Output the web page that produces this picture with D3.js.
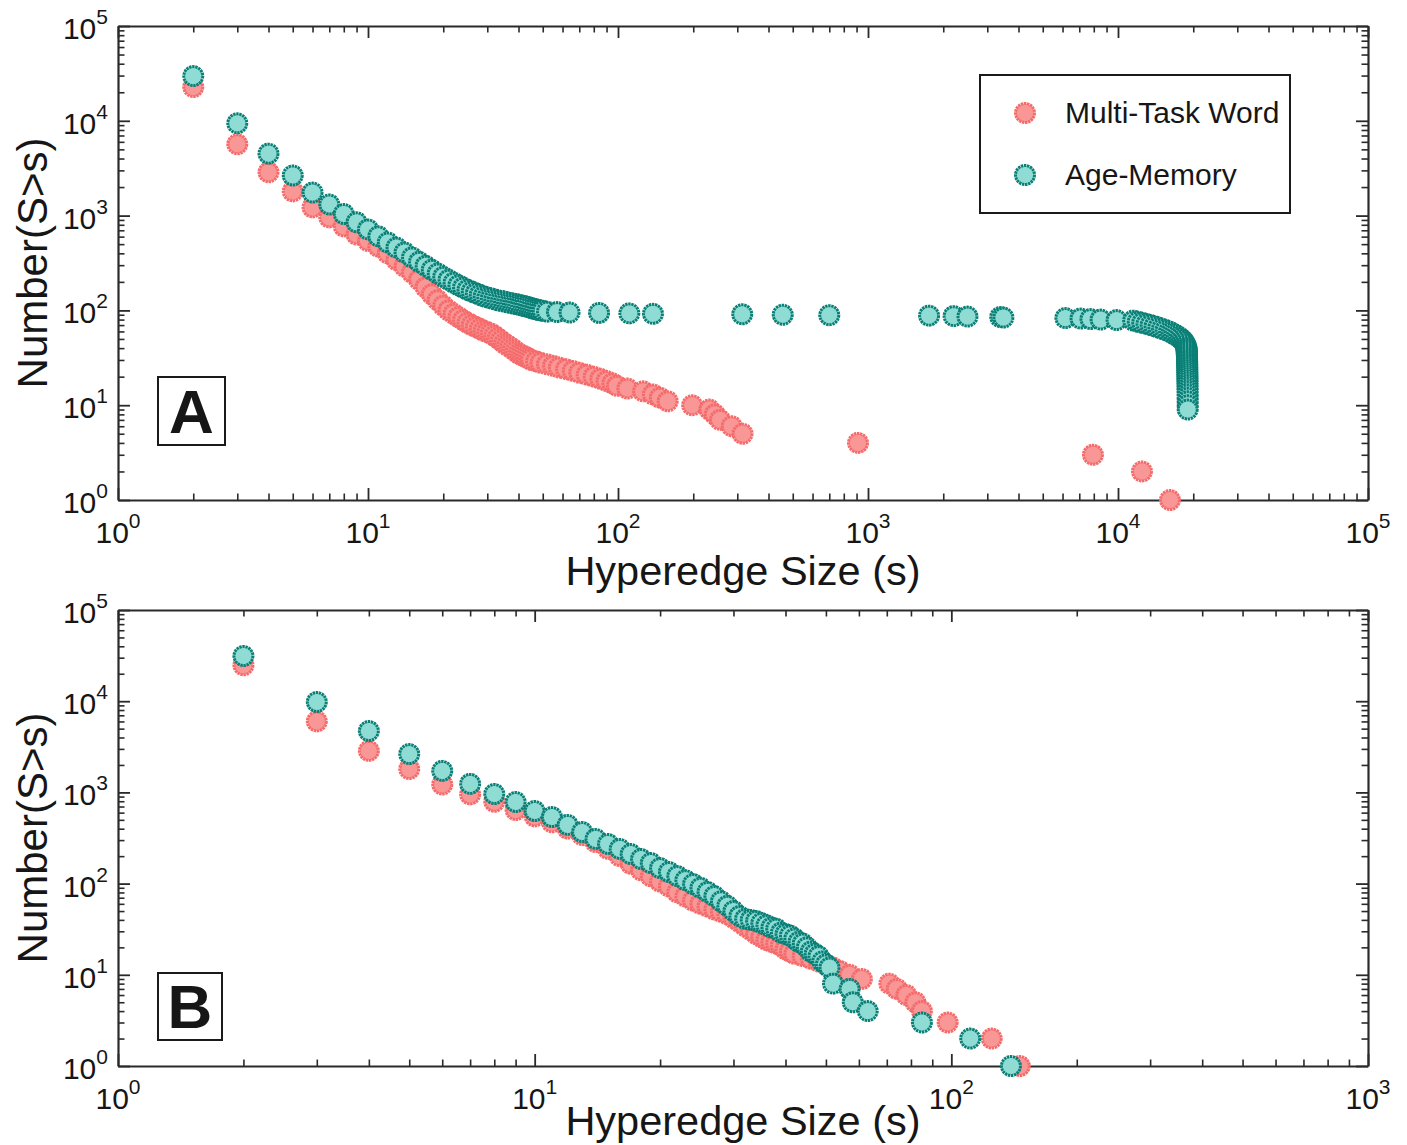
<!DOCTYPE html>
<html><head><meta charset="utf-8">
<script src="https://cdn.jsdelivr.net/npm/d3@7"></script>
<style>
body{margin:0;background:#fff}
text{font-family:"Liberation Sans",Arial,Helvetica,sans-serif;fill:#161616}
</style>
</head><body>
<svg id="chart" width="1407" height="1145"></svg>
<script>
// ---------------- DATA ----------------
const seriesNames = ["Multi-Task Word", "Age-Memory"];
const panelLetters = ["A", "B"];

// Panel A : Multi-Task Word
const sizeA_mtw = [2,3,4,5,6,7,8,9,10,11,12,13,14,15,16,17,18,19,20,21,22,23,24,25,26,27,28,29,30,31,32,33,34,35,36,37,38,39,40,41,42,43,44,45,47,49,52,55,58,62,66,70,75,80,85,90,95,99,109,126,138,147,158,198,232,244,256,285,315,912,7940,12470,16140];
const countA_mtw = [22700,5660,2860,1800,1220,957,769,632,540,470,400,340,290,250,210,175,148,128,112,100,92,85,79,74,70,67,64,61,59,57,54,51,48,45,43,41,39,37,35,34,33,32,31,30,29,28,27,26,25,24,23,22,21,20,19,18,17,16,15,14,13,12,11,10,9,8,7,6,5,4,3,2,1];

// Panel A : Age-Memory
const sizeA_am = [2,3,4,5,6,7,8,9,10,11,12,13,14,15,16,17,18,19,20,21,22,23,24,25,26,27,28,29,30,31,32,33,34,35,36,37,38,39,40,41,42,43,44,45,46,47,48,49,50,
  52,57,64,84,111,138,314,456,700,1755,2200,2500,3380,3480,6160,7080,7760,8520,9870,11500,
  12000,12500,13000,13500,14000,14500,15000,15500,16000,16400,16800,17200,17600,17900,18200,18400,18600,18700,
  18800,18810,18820,18830,18840,18850,18860,18870,18880,18890,18900,18905,18910,18915,18920,18925,18930,18935,18940,18945,18950,18955,18960,18965,18970,18975,18980,18985,18990,18995,19000,19000];
const countA_am = [29600,9400,4500,2650,1750,1310,1040,850,715,605,520,460,408,362,325,295,268,245,226,210,196,184,174,165,158,152,146,141,137,134,131,128,126,124,122,120,118,117,115,113,111,110,108,106,104,103,101,100,99,
  97,96,95,94,93,92,91,90,89,88,87,86,85,84,83,82,81,80,79,78,
  76,74,72,70,68,66,64,62,60,58,56,54,52,50,48,46,44,42,
  40,39,38,37,36,35,34,33,32,31,30,29,28,27,26,25,24,23,22,21,20,19,18,17,16,15,14,13,12,11,10,9];

// Panel B : Multi-Task Word
const sizeB_mtw = [2,3,4,5,6,7,8,9,10,11,12,13,14,15,16,17,18,19,20,21,22,23,24,25,26,27,28,29,30,31,32,33,34,35,36,37,38,39,40,41,42,44,46,48,50,52,54,57,61,71,74,78,82,85,98,125,146];
const countB_mtw = [24800,6000,2850,1800,1220,950,790,640,545,470,400,340,285,240,200,165,140,120,105,93,80,72,65,60,56,52,49,46,42,38,34,31,28,26,24,23,22,21,19,18,17,16,15,14,13,12,11,10,9,8,7,6,5,4,3,2,1];

// Panel B : Age-Memory
const sizeB_am = [2,3,4,5,6,7,8,9,10,11,12,13,14,15,16,17,18,19,20,21,22,23,24,25,26,27,28,29,30,31,32,33,34,35,36,37,38,39,40,41,42,43,44,45,46,47,48,49,50,51,52,57,58,63,85,111,139];
const countB_am = [31300,9800,4710,2630,1720,1240,960,785,625,537,440,368,309,272,240,211,186,168,148,134,121,109,99,90,81,73,64,57,50,44,41,40,39,37,35,33,32,29,28,27,25,23,22,20,18,17,16,14,13,12,8,7,5,4,3,2,1];

// Tick labels (exponents of 10)
const xTickExpA = [0,1,2,3,4,5];
const xTickExpB = [0,1,2,3];
const yTickExp  = [0,1,2,3,4,5];

const xLabel = "Hyperedge Size (s)";
const yLabel = "Number(S>s)";

// ---------------- STYLE ----------------
const styles = {
  mtw: {fill:"#f99696", stroke:"#f56a6a"},
  am:  {fill:"#8fdcd5", stroke:"#0a7f76"}
};
const R = 9.5;

const svg = d3.select("#chart");

function addPowerLabel(g, x, y, exp, anchor){
  const t = g.append("text").attr("x", x).attr("y", y)
    .attr("text-anchor", anchor).attr("font-size", 30);
  t.append("tspan").text("10");
  t.append("tspan").attr("dy", -15).attr("font-size", 21).text(exp);
}

function drawMarkers(g, sizes, counts, st, x, y){
  g.append("g").selectAll("circle").data(d3.zip(sizes, counts)).join("circle")
    .attr("cx", d => x(d[0])).attr("cy", d => y(d[1])).attr("r", R)
    .attr("fill", st.fill).attr("stroke", st.stroke)
    .attr("stroke-width", 3).attr("stroke-dasharray", "2.4,0.7");
}

function drawPanel(cfg){
  const g = svg.append("g");
  const x = d3.scaleLog().domain([1, Math.pow(10, cfg.xExp[cfg.xExp.length-1])]).range([cfg.left, cfg.right]);
  const y = d3.scaleLog().domain([1, 1e5]).range([cfg.bottom, cfg.top]);

  const xMaj = cfg.xExp.map(e => Math.pow(10, e));
  const yMaj = yTickExp.map(e => Math.pow(10, e));
  const xMin = [], yMin = [];
  cfg.xExp.slice(0, -1).forEach(e => { for (let k = 2; k <= 9; k++) xMin.push(k * Math.pow(10, e)); });
  yTickExp.slice(0, -1).forEach(e => { for (let k = 2; k <= 9; k++) yMin.push(k * Math.pow(10, e)); });

  const axes = [
    [d3.axisBottom(x), xMaj, xMin, `translate(0,${cfg.bottom})`],
    [d3.axisTop(x), xMaj, xMin, `translate(0,${cfg.top})`],
    [d3.axisLeft(y), yMaj, yMin, `translate(${cfg.left},0)`],
    [d3.axisRight(y), yMaj, yMin, `translate(${cfg.right},0)`]
  ];
  const mg = g.append("g");
  axes.forEach(([ax, maj, min, tr]) => {
    const a1 = g.append("g").attr("transform", tr)
      .call(ax.tickValues(maj).tickSize(-12).tickSizeOuter(0).tickFormat(""));
    a1.select(".domain").attr("stroke", "#2a2a2a").attr("stroke-width", 2.2);
    a1.selectAll(".tick line").attr("stroke", "#2a2a2a").attr("stroke-width", 1.8);
    const a2 = g.append("g").attr("transform", tr)
      .call(ax.tickValues(min).tickSize(-6.5).tickSizeOuter(0).tickFormat(""));
    a2.select(".domain").remove();
    a2.selectAll(".tick line").attr("stroke", "#2a2a2a").attr("stroke-width", 1.6);
  });

  drawMarkers(mg, cfg.redX, cfg.redY, styles.mtw, x, y);
  drawMarkers(mg, cfg.tealX, cfg.tealY, styles.am, x, y);
  mg.raise();

  cfg.xExp.forEach(e => addPowerLabel(g, x(Math.pow(10, e)), cfg.bottom + 43, e, "middle"));
  yTickExp.forEach(e => addPowerLabel(g, cfg.left - 10, y(Math.pow(10, e)) + 13, e, "end"));

  g.append("text").attr("x", (cfg.left + cfg.right) / 2).attr("y", cfg.bottom + cfg.xLabelOff)
    .attr("text-anchor", "middle").attr("font-size", 41.5).text(xLabel);
  g.append("text").attr("transform", `translate(47,${(cfg.top + cfg.bottom) / 2}) rotate(-90)`)
    .attr("text-anchor", "middle").attr("font-size", 42).text(yLabel);

  g.append("rect").attr("x", cfg.box[0]).attr("y", cfg.box[1]).attr("width", cfg.box[2]).attr("height", cfg.box[3])
    .attr("fill", "#fff").attr("stroke", "#1a1a1a").attr("stroke-width", 2);
  g.append("text").attr("x", cfg.box[0] + cfg.box[2] / 2).attr("y", cfg.box[1] + cfg.box[3] - 12)
    .attr("text-anchor", "middle").attr("font-size", 62).attr("font-weight", "bold").text(cfg.letter);
  return {g, x, y};
}

drawPanel({left:118, right:1368, top:26, bottom:500, xExp:xTickExpA, xLabelOff:85,
  redX:sizeA_mtw, redY:countA_mtw, tealX:sizeA_am, tealY:countA_am,
  box:[158,377,67,68], letter:panelLetters[0]});
drawPanel({left:118, right:1368, top:610, bottom:1066, xExp:xTickExpB, xLabelOff:69,
  redX:sizeB_mtw, redY:countB_mtw, tealX:sizeB_am, tealY:countB_am,
  box:[158,973,64,67], letter:panelLetters[1]});

// legend (panel A)
const lg = svg.append("g");
lg.append("rect").attr("x", 980).attr("y", 75).attr("width", 310).attr("height", 138)
  .attr("fill", "#fff").attr("stroke", "#1a1a1a").attr("stroke-width", 2);
[styles.mtw, styles.am].forEach((st, i) => {
  lg.append("circle").attr("cx", 1025).attr("cy", 113 + i * 62).attr("r", R)
    .attr("fill", st.fill).attr("stroke", st.stroke).attr("stroke-width", 3).attr("stroke-dasharray", "2.4,0.7");
  lg.append("text").attr("x", 1065).attr("y", 123 + i * 62).attr("font-size", 30).text(seriesNames[i]);
});
</script>
</body></html>
